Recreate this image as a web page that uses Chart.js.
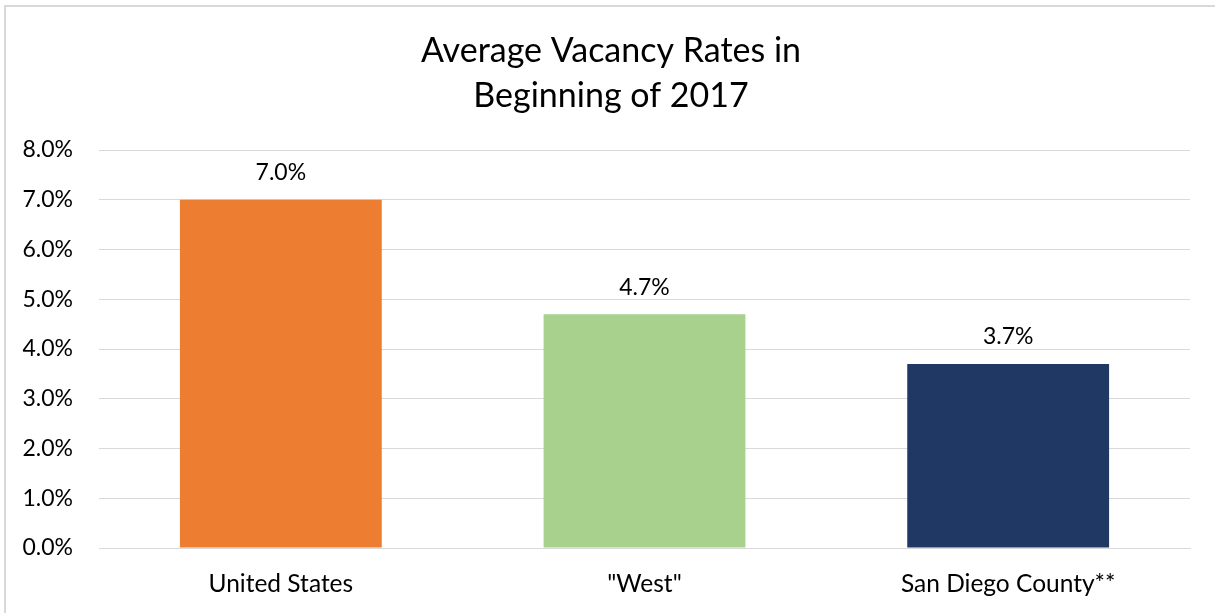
<!DOCTYPE html>
<html><head><meta charset="utf-8">
<script src="https://cdn.jsdelivr.net/npm/chart.js@4"></script>
<style>
html,body{margin:0;padding:0;background:#fff;}
#wrap{position:absolute;left:0;top:0;width:1215px;height:613px;}
#border{position:absolute;left:4px;top:5px;width:1220px;height:620px;border-left:2px solid #d9d9d9;border-top:2px solid #d9d9d9;box-sizing:border-box;}
canvas{position:absolute;left:0;top:0;}
</style></head>
<body>
<div id="wrap"><div id="border"></div><canvas id="c" width="1215" height="613"></canvas></div>
<script>
const categories = ["United States", "\"West\"", "San Diego County**"];
const vacancyRates = [7.0, 4.7, 3.7];
const barColors = ["#ED7D31", "#A9D18E", "#203864"];
const titleLines = ["Average Vacancy Rates in", "Beginning of 2017"];
const yMin = 0, yMax = 8, yStep = 1;

const FONT = "Lato, 'Open Sans', sans-serif";

const labelPlugin = {
  id: 'labels',
  afterDatasetsDraw(chart) {
    const ctx = chart.ctx;
    const meta = chart.getDatasetMeta(0);
    ctx.save();
    ctx.font = "23px " + FONT;
    ctx.fillStyle = "#000";
    ctx.textAlign = "center";
    ctx.textBaseline = "middle";
    meta.data.forEach((el, i) => {
      ctx.fillText(vacancyRates[i].toFixed(1) + "%", el.x, el.y - 27);
    });
    ctx.restore();
  }
};
const titlePlugin = {
  id: 'ttl',
  afterDraw(chart) {
    const ctx = chart.ctx;
    ctx.save();
    ctx.font = "34px " + FONT;
    ctx.fillStyle = "#000";
    ctx.textAlign = "center";
    ctx.textBaseline = "middle";
    ctx.fillText(titleLines[0], 611, 51);
    ctx.fillText(titleLines[1], 611, 96);
    ctx.restore();
  }
};

new Chart(document.getElementById('c'), {
  type: 'bar',
  data: {
    labels: categories,
    datasets: [{
      data: vacancyRates,
      backgroundColor: barColors,
      borderWidth: 0,
      categoryPercentage: 0.555,
      barPercentage: 1.0
    }]
  },
  plugins: [labelPlugin, titlePlugin],
  options: {
    responsive: false,
    animation: false,
    devicePixelRatio: 1,
    layout: { padding: { top: 150, right: 25, left: 0, bottom: 0 } },
    plugins: { legend: { display: false }, title: { display: false }, tooltip: { enabled: false } },
    scales: {
      x: {
        grid: { display: false, drawTicks: false },
        border: { display: true, color: '#d9d9d9', width: 1 },
        ticks: { color: '#000', font: { family: FONT, size: 24.5 }, padding: 21 },
        afterFit(s) { s.height = 65; }
      },
      y: {
        min: yMin, max: yMax,
        grid: { color: '#d9d9d9', lineWidth: 1, drawTicks: false },
        border: { display: false },
        ticks: { stepSize: yStep, color: '#000', font: { family: FONT, size: 23 }, padding: 26,
          callback: v => v.toFixed(1) + "%" },
        afterFit(s) { s.width = 99; }
      }
    }
  }
});
</script>
</body></html>
